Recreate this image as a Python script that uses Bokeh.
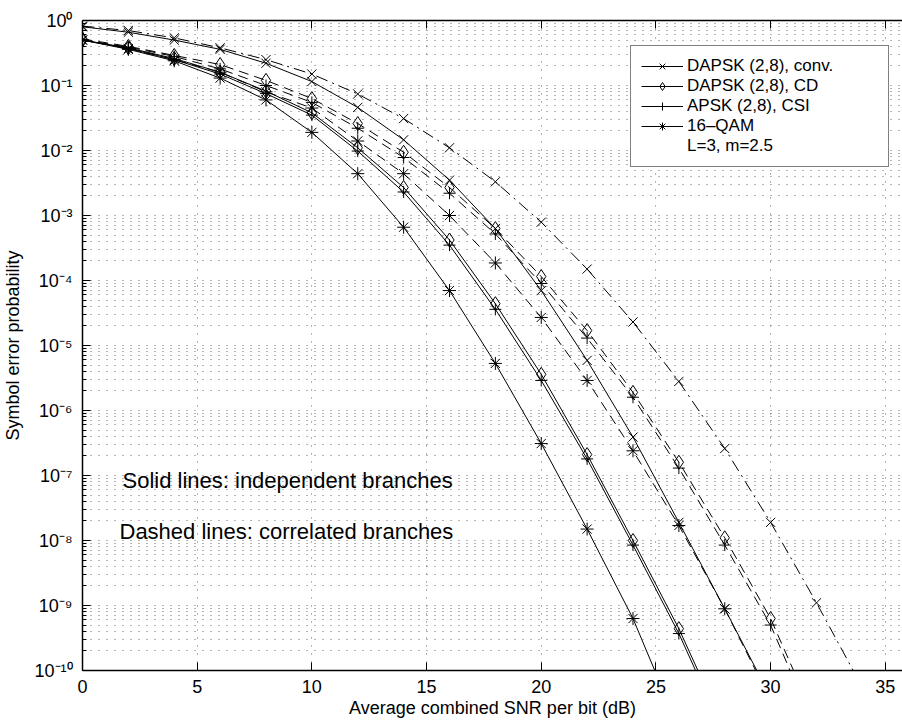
import math
from bokeh.plotting import figure
from bokeh.models import (FixedTicker, Range1d, LinearAxis, Label, Legend, LegendItem,
                          CustomJSTickFormatter)
from bokeh.embed import file_html
from bokeh.resources import INLINE

# ---------------- data ----------------
snr_db = [0, 2, 4, 6, 8, 10, 12, 14, 16, 18, 20, 22, 24, 26, 28, 30, 32]

conv_indep = [0.80, 0.66, 0.50, 0.36, 0.22, 0.115, 0.046, 0.0146, 0.0035, 6.3e-4,
              7.0e-5, 5.9e-6, 3.9e-7, 1.9e-8, 8.9e-10]
conv_corr = [0.82, 0.70, 0.54, 0.38, 0.25, 0.15, 0.074, 0.031, 0.011, 0.0033,
             7.9e-4, 1.5e-4, 2.3e-5, 2.8e-6, 2.6e-7, 1.9e-8, 1.1e-9]
cd_indep = [0.50, 0.38, 0.26, 0.16, 0.082, 0.038, 0.011, 0.0027, 4.2e-4, 4.4e-5,
            3.6e-6, 2.1e-7, 1.0e-8, 4.4e-10]
cd_corr = [0.52, 0.40, 0.29, 0.21, 0.12, 0.063, 0.026, 0.0094, 0.0027, 6.3e-4,
           1.15e-4, 1.7e-5, 1.9e-6, 1.6e-7, 1.1e-8, 6.3e-10]
csi_indep = [0.50, 0.37, 0.25, 0.15, 0.075, 0.035, 0.0098, 0.0023, 3.5e-4, 3.6e-5,
             2.9e-6, 1.8e-7, 8.5e-9, 3.7e-10]
csi_corr = [0.50, 0.39, 0.28, 0.18, 0.10, 0.055, 0.022, 0.0078, 0.0022, 5.2e-4,
            9.0e-5, 1.3e-5, 1.6e-6, 1.3e-7, 8.5e-9, 5.0e-10]
qam_indep = [0.50, 0.36, 0.24, 0.13, 0.060, 0.019, 0.0044, 6.6e-4, 7.0e-5, 5.3e-6,
             3.1e-7, 1.5e-8, 6.3e-10]
qam_corr = [0.50, 0.37, 0.25, 0.16, 0.080, 0.045, 0.014, 0.0044, 1.0e-3, 1.86e-4,
            2.7e-5, 2.9e-6, 2.4e-7, 1.7e-8, 8.9e-10]

# SNR where each curve leaves the plot at the bottom (1e-10)
exit_snr = {"conv_indep": 29.4, "conv_corr": 33.6, "cd_indep": 26.83, "cd_corr": 31.0,
            "csi_indep": 26.73, "csi_corr": 30.85, "qam_indep": 24.95, "qam_corr": 29.35}

legend_labels = ["DAPSK (2,8), conv.", "DAPSK (2,8), CD", "APSK (2,8), CSI", "16–QAM",
                 "L=3, m=2.5"]
x_ticks = [0, 5, 10, 15, 20, 25, 30, 35]
y_exponents = [0, -1, -2, -3, -4, -5, -6, -7, -8, -9, -10]
x_title = "Average combined SNR per bit (dB)"
y_title = "Symbol error probability"
note_solid = "Solid  lines: independent branches"
note_dashed = "Dashed lines: correlated branches"

# ---------------- figure ----------------
FONT = "Liberation Sans"
Y_MIN, Y_MAX = 1e-10, 1.0
X_MIN, X_MAX = 0.0, 35.75

p = figure(width=902, height=723, y_axis_type="log",
           x_range=Range1d(X_MIN, X_MAX), y_range=Range1d(Y_MIN, Y_MAX),
           output_backend="svg", toolbar_location=None,
           min_border_left=82, min_border_right=0, min_border_top=20, min_border_bottom=53)
p.outline_line_color = None
p.background_fill_color = "white"
p.border_fill_color = "white"

x_ticker = FixedTicker(ticks=x_ticks, minor_ticks=[])
y_major = [10.0 ** e for e in y_exponents]
y_minor = [m * 10.0 ** e for e in range(-10, 0) for m in range(2, 10)]
y_ticker = FixedTicker(ticks=y_major, minor_ticks=y_minor)
blank = CustomJSTickFormatter(code="return ''")

SUP = str.maketrans("0123456789-", "⁰¹²³⁴⁵⁶⁷⁸⁹⁻")
y_tick_text = {10.0 ** e: "10" + str(e).translate(SUP) for e in y_exponents}

# bottom axis
xa = p.xaxis[0]
xa.ticker = x_ticker
xa.major_label_text_font = FONT
xa.major_label_text_font_size = "18px"
xa.major_label_text_color = "black"
xa.major_label_standoff = 9
xa.major_tick_in = 8
xa.major_tick_out = 0
xa.minor_tick_line_color = None
xa.axis_line_width = 1.5
xa.axis_line_color = "black"
xa.major_tick_line_color = "black"
xa.axis_label = x_title
xa.axis_label_text_font = FONT
xa.axis_label_text_font_size = "18px"
xa.axis_label_text_font_style = "normal"
xa.axis_label_text_color = "black"
xa.axis_label_standoff = 2

# left axis
ya = p.yaxis[0]
ya.ticker = y_ticker
ya.major_label_overrides = y_tick_text
ya.major_label_text_font = FONT
ya.major_label_text_font_size = "18px"
ya.major_label_text_color = "black"
ya.major_label_standoff = 10
ya.major_tick_in = 8
ya.major_tick_out = 0
ya.minor_tick_in = 4
ya.minor_tick_out = 0
ya.axis_line_width = 1.5
ya.axis_line_color = "black"
ya.major_tick_line_color = "black"
ya.minor_tick_line_color = "black"
ya.axis_label = y_title
ya.axis_label_text_font = FONT
ya.axis_label_text_font_size = "18px"
ya.axis_label_text_font_style = "normal"
ya.axis_label_text_color = "black"
ya.axis_label_standoff = 8

# top axis (box edge)
top = LinearAxis(ticker=x_ticker, formatter=blank, major_label_standoff=0,
                 major_tick_in=8, major_tick_out=0, minor_tick_line_color=None,
                 axis_line_width=1.5, axis_line_color="black")
p.add_layout(top, "above")

# grids: dotted
for g in (p.xgrid[0], p.ygrid[0]):
    g.grid_line_color = "#444444"
    g.grid_line_dash = "1 7"
    g.grid_line_width = 1
    g.grid_line_alpha = 0.8
p.xgrid[0].ticker = x_ticker
p.ygrid[0].ticker = y_ticker
p.ygrid[0].minor_grid_line_color = "#444444"
p.ygrid[0].minor_grid_line_dash = "1 7"
p.ygrid[0].minor_grid_line_alpha = 0.8

# ---------------- curves ----------------
DASH = "10 6"
DASHDOT = "12 5 2 5"

def curve(vals, key, dash, marker, size):
    xs = snr_db[:len(vals)]
    lx = xs + [exit_snr[key]]
    ly = vals + [Y_MIN]
    rl = p.line(lx, ly, line_color="black", line_width=1, line_dash=dash)
    rm = p.scatter(xs, vals, marker=marker, size=size, line_color="black",
                   fill_color=None, line_width=1)
    return rl, rm

c1 = curve(conv_indep, "conv_indep", "solid", "x", 13)
curve(conv_corr, "conv_corr", DASHDOT, "x", 13)
c2 = curve(cd_indep, "cd_indep", "solid", "diamond", 14)
curve(cd_corr, "cd_corr", DASH, "diamond", 14)
c3 = curve(csi_indep, "csi_indep", "solid", "cross", 12)
curve(csi_corr, "csi_corr", DASH, "cross", 12)
c4 = curve(qam_indep, "qam_indep", "solid", "asterisk", 13)
curve(qam_corr, "qam_corr", DASH, "asterisk", 13)
dummy = p.line([1.0, 2.0], [1e-20, 1e-20], line_alpha=0)

items = [LegendItem(label=legend_labels[0], renderers=list(c1)),
         LegendItem(label=legend_labels[1], renderers=list(c2)),
         LegendItem(label=legend_labels[2], renderers=list(c3)),
         LegendItem(label=legend_labels[3], renderers=list(c4)),
         LegendItem(label=legend_labels[4], renderers=[dummy])]
legend = Legend(items=items, location=(548, 503),
                border_line_color="black", border_line_width=1,
                background_fill_color="white", background_fill_alpha=1.0,
                label_text_font=FONT, label_text_font_size="17px", label_text_color="black",
                glyph_width=42, glyph_height=20, label_height=20, spacing=0,
                padding=10, margin=0, label_standoff=4, label_width=191)
p.add_layout(legend)

# ---------------- notes inside the plot ----------------
PX_PER_DB = 22.94
PX_PER_DEC = 65.0
def sx(px):   # picture x pixel -> data x
    return (px - 82) / PX_PER_DB
def sy(py):   # picture y pixel -> data y (log)
    return 10 ** (-(py - 20) / PX_PER_DEC)

p.add_layout(Label(x=sx(122), y=sy(480), text=note_solid, text_align="left",
                   text_baseline="alphabetic", text_font=FONT, text_font_size="22px",
                   text_color="black"))
p.add_layout(Label(x=sx(119), y=sy(531), text=note_dashed, text_align="left",
                   text_baseline="alphabetic", text_font=FONT, text_font_size="22px",
                   text_color="black"))

open("out.html", "w").write(file_html(p, INLINE))
